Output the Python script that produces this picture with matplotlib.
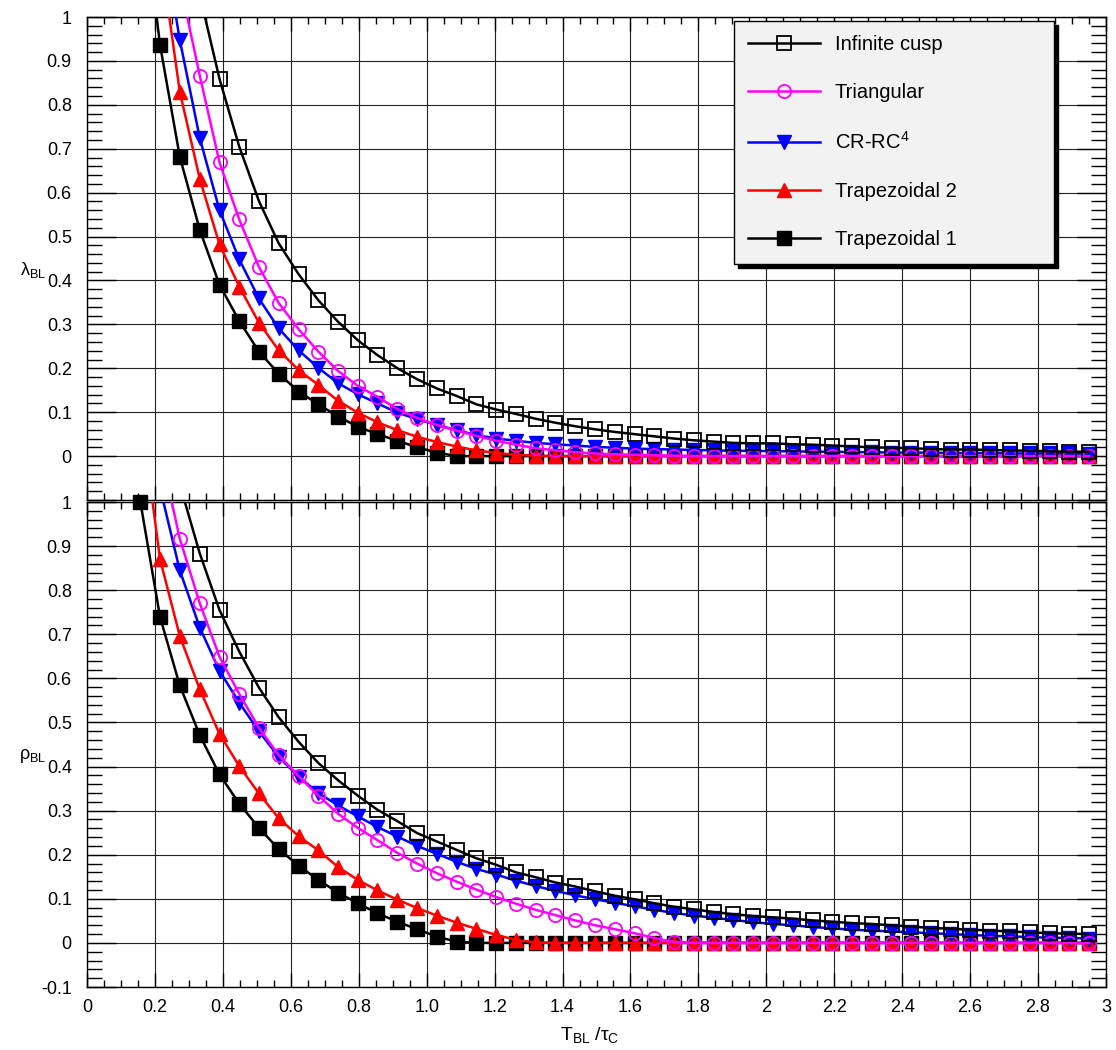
import matplotlib
matplotlib.use('Agg')
import matplotlib.pyplot as plt
from matplotlib.lines import Line2D
from matplotlib.ticker import MultipleLocator
import numpy as np

plt.rcParams['font.family'] = ['Liberation Sans', 'DejaVu Sans']
plt.rcParams['mathtext.fontset'] = 'custom'
plt.rcParams['mathtext.rm'] = 'Liberation Sans'
plt.rcParams['mathtext.it'] = 'Liberation Sans:italic'
plt.rcParams['mathtext.bf'] = 'Liberation Sans:bold'

# T_BL / tau_C sample points (shared by every curve)
x_vals = [0.157, 0.215, 0.273, 0.332, 0.390, 0.448, 0.506, 0.564, 0.623, 0.681,
          0.739, 0.797, 0.855, 0.914, 0.972, 1.030, 1.088, 1.146, 1.205, 1.263,
          1.321, 1.379, 1.437, 1.496, 1.554, 1.612, 1.670, 1.728, 1.787, 1.845,
          1.903, 1.961, 2.019, 2.078, 2.136, 2.194, 2.252, 2.310, 2.369, 2.427,
          2.485, 2.543, 2.601, 2.660, 2.718, 2.776, 2.834, 2.892, 2.951]

labels = ['Infinite cusp', 'Triangular', r'CR-RC$^{4}$', 'Trapezoidal 2', 'Trapezoidal 1']

# lambda_BL (top panel)
lam_cusp = [2.2, 1.7, 1.32, 1.05, 0.859, 0.705, 0.581, 0.485, 0.414, 0.355,
            0.306, 0.264, 0.230, 0.200, 0.175, 0.154, 0.137, 0.118, 0.106, 0.096,
            0.085, 0.076, 0.068, 0.061, 0.055, 0.050, 0.045, 0.040, 0.036, 0.033,
            0.030, 0.029, 0.029, 0.027, 0.026, 0.024, 0.022, 0.020, 0.019, 0.018,
            0.016, 0.015, 0.015, 0.014, 0.013, 0.012, 0.011, 0.010, 0.010]
lam_tri = [1.9, 1.45, 1.08, 0.866, 0.669, 0.539, 0.431, 0.349, 0.289, 0.238,
           0.194, 0.160, 0.135, 0.107, 0.087, 0.071, 0.058, 0.046, 0.035, 0.026,
           0.018, 0.013, 0.009, 0.006, 0.004, 0.003, 0.002, 0.001, 0, 0,
           0, 0, 0, 0, 0, 0, 0, 0, 0, 0,
           0, 0, 0, 0, 0, 0, 0, 0, 0]
lam_crrc = [1.7, 1.22, 0.948, 0.724, 0.560, 0.448, 0.359, 0.291, 0.241, 0.201,
            0.166, 0.141, 0.120, 0.099, 0.084, 0.071, 0.059, 0.048, 0.040, 0.035,
            0.030, 0.027, 0.024, 0.021, 0.019, 0.017, 0.016, 0.015, 0.014, 0.013,
            0.012, 0.012, 0.011, 0.011, 0.010, 0.010, 0.009, 0.009, 0.008, 0.008,
            0.008, 0.007, 0.007, 0.007, 0.006, 0.006, 0.006, 0.006, 0.005]
lam_trap2 = [1.6, 1.15, 0.830, 0.631, 0.482, 0.386, 0.304, 0.241, 0.196, 0.162,
             0.126, 0.099, 0.077, 0.059, 0.044, 0.032, 0.022, 0.013, 0.007, 0.003,
             0.001, 0, 0, 0, 0, 0, 0, 0, 0, 0,
             0, 0, 0, 0, 0, 0, 0, 0, 0, 0,
             0, 0, 0, 0, 0, 0, 0, 0, 0]
lam_trap1 = [1.3, 0.936, 0.682, 0.515, 0.390, 0.308, 0.238, 0.188, 0.147, 0.118,
             0.090, 0.067, 0.050, 0.035, 0.020, 0.008, 0, 0, 0, 0,
             0, 0, 0, 0, 0, 0, 0, 0, 0, 0,
             0, 0, 0, 0, 0, 0, 0, 0, 0, 0,
             0, 0, 0, 0, 0, 0, 0, 0, 0]

# rho_BL (bottom panel)
rho_cusp = [1.7, 1.3, 1.04, 0.883, 0.755, 0.661, 0.579, 0.512, 0.456, 0.408,
            0.369, 0.334, 0.302, 0.276, 0.249, 0.230, 0.211, 0.192, 0.177, 0.160,
            0.149, 0.137, 0.128, 0.117, 0.107, 0.099, 0.090, 0.082, 0.076, 0.070,
            0.065, 0.061, 0.058, 0.055, 0.051, 0.048, 0.045, 0.043, 0.040, 0.037,
            0.034, 0.032, 0.030, 0.028, 0.026, 0.024, 0.022, 0.021, 0.020]
rho_tri = [1.45, 1.12, 0.917, 0.770, 0.649, 0.565, 0.488, 0.426, 0.378, 0.334,
           0.293, 0.261, 0.233, 0.204, 0.180, 0.158, 0.139, 0.121, 0.104, 0.089,
           0.075, 0.063, 0.051, 0.040, 0.031, 0.022, 0.011, 0.002, 0, 0,
           0, 0, 0, 0, 0, 0, 0, 0, 0, 0,
           0, 0, 0, 0, 0, 0, 0, 0, 0]
rho_crrc = [1.4, 1.032, 0.845, 0.715, 0.617, 0.545, 0.480, 0.422, 0.377, 0.340,
            0.312, 0.287, 0.263, 0.241, 0.220, 0.202, 0.184, 0.168, 0.155, 0.141,
            0.129, 0.118, 0.108, 0.099, 0.091, 0.083, 0.075, 0.068, 0.062, 0.057,
            0.052, 0.047, 0.043, 0.040, 0.036, 0.033, 0.030, 0.028, 0.026, 0.024,
            0.022, 0.020, 0.018, 0.016, 0.015, 0.013, 0.012, 0.011, 0.010]
rho_trap2 = [1.21, 0.870, 0.696, 0.575, 0.474, 0.401, 0.339, 0.283, 0.242, 0.210,
             0.172, 0.143, 0.119, 0.098, 0.079, 0.062, 0.046, 0.032, 0.018, 0.007,
             0.001, 0, 0, 0, 0, 0, 0, 0, 0, 0,
             0, 0, 0, 0, 0, 0, 0, 0, 0, 0,
             0, 0, 0, 0, 0, 0, 0, 0, 0]
rho_trap1 = [1.0, 0.739, 0.584, 0.471, 0.382, 0.316, 0.261, 0.213, 0.175, 0.143,
             0.114, 0.090, 0.067, 0.048, 0.031, 0.014, 0.003, 0, 0, 0,
             0, 0, 0, 0, 0, 0, 0, 0, 0, 0,
             0, 0, 0, 0, 0, 0, 0, 0, 0, 0,
             0, 0, 0, 0, 0, 0, 0, 0, 0]

x_ticklabels = ['0', '0.2', '0.4', '0.6', '0.8', '1.0', '1.2', '1.4', '1.6', '1.8',
                '2', '2.2', '2.4', '2.6', '2.8', '3']
y_ticklabels = ['-0.1', '0', '0.1', '0.2', '0.3', '0.4', '0.5', '0.6', '0.7', '0.8',
                '0.9', '1']

# marker styles, same order as labels
styles = [
    dict(color='black', marker='s', mfc='none', mec='black', mew=1.3),
    dict(color='#ff00ff', marker='o', mfc='none', mec='#ff00ff', mew=1.3),
    dict(color='#0000ff', marker='v', mfc='#0000ff', mec='#0000ff', mew=1.0),
    dict(color='#ff0000', marker='^', mfc='#ff0000', mec='#ff0000', mew=1.0),
    dict(color='black', marker='s', mfc='black', mec='black', mew=1.0),
]

x = np.array(x_vals)
fig = plt.figure(figsize=(11.16, 10.50), dpi=100)
ax1 = fig.add_axes([0.078, 0.5238, 0.913, 0.46])
ax2 = fig.add_axes([0.078, 0.06, 0.913, 0.4619])


def draw_panel(ax, curves):
    # draw back to front: trapezoidal 1 first, infinite cusp last
    for i in range(len(curves) - 1, -1, -1):
        ys = np.array(curves[i])
        st = styles[i]
        z = 3 + (len(curves) - i)
        ax.plot(x, ys, color=st['color'], lw=1.8, zorder=z)
        keep = ys <= 1.0
        ax.plot(x[keep], ys[keep], ls='none', marker=st['marker'], ms=9.5,
                mfc=st['mfc'], mec=st['mec'], mew=st['mew'], zorder=z, clip_on=False)

    ax.set_xlim(0, 3)
    ax.set_ylim(-0.1, 1.0)
    ax.set_xticks(np.arange(0, 3.01, 0.2))
    ax.xaxis.set_minor_locator(MultipleLocator(0.05))
    ax.set_yticks(np.arange(-0.1, 1.001, 0.1))
    ax.yaxis.set_minor_locator(MultipleLocator(0.02))
    ax.grid(True, which='major', color='#222222', lw=0.8)
    ax.set_axisbelow(True)
    ax.tick_params(which='both', direction='in', top=True, right=True,
                   labelsize=13, width=1.0)
    ax.tick_params(axis='x', which='major', length=10, pad=9)
    ax.tick_params(axis='x', which='minor', length=5)
    ax.tick_params(axis='y', which='major', length=21, pad=11)
    ax.tick_params(axis='y', which='minor', length=10.5)
    for sp in ax.spines.values():
        sp.set_linewidth(1.0)


draw_panel(ax1, [lam_cusp, lam_tri, lam_crrc, lam_trap2, lam_trap1])
draw_panel(ax2, [rho_cusp, rho_tri, rho_crrc, rho_trap2, rho_trap1])

ax1.set_xticklabels([])
ax1.set_yticklabels([''] + y_ticklabels[1:])
ax2.set_xticklabels(x_ticklabels)
ax2.set_yticklabels(y_ticklabels)

fig.text(33 / 1116, 1 - 270 / 1050, r'$\mathregular{\lambda_{BL}}$', fontsize=13,
         ha='center', va='center')
fig.text(33 / 1116, 1 - 756 / 1050, r'$\mathregular{\rho_{BL}}$', fontsize=13,
         ha='center', va='center')
fig.text(590 / 1116, 1 - 1035 / 1050, r'$\mathregular{T_{BL}\ /\tau_{C}}$', fontsize=14,
         ha='center', va='center')

handles = [Line2D([], [], color=st['color'], lw=1.8, marker=st['marker'], ms=9.5,
                  mfc=st['mfc'], mec=st['mec'], mew=st['mew']) for st in styles]
leg = ax1.legend(handles, labels, loc='upper left',
                 bbox_to_anchor=(0.6577, 0.746, 0.2867, 0.2343),
                 bbox_transform=fig.transFigure, mode='expand', borderaxespad=0,
                 fontsize=14.5, handlelength=3.55, handletextpad=0.75,
                 borderpad=0.7, labelspacing=1.45, fancybox=False,
                 edgecolor='black', facecolor='#f2f2f2', framealpha=1,
                 shadow={'ox': 3, 'oy': -3, 'color': 'black', 'alpha': 1})
leg.get_frame().set_linewidth(1.0)
leg.set_zorder(20)

fig.savefig('out.png', dpi=100)
